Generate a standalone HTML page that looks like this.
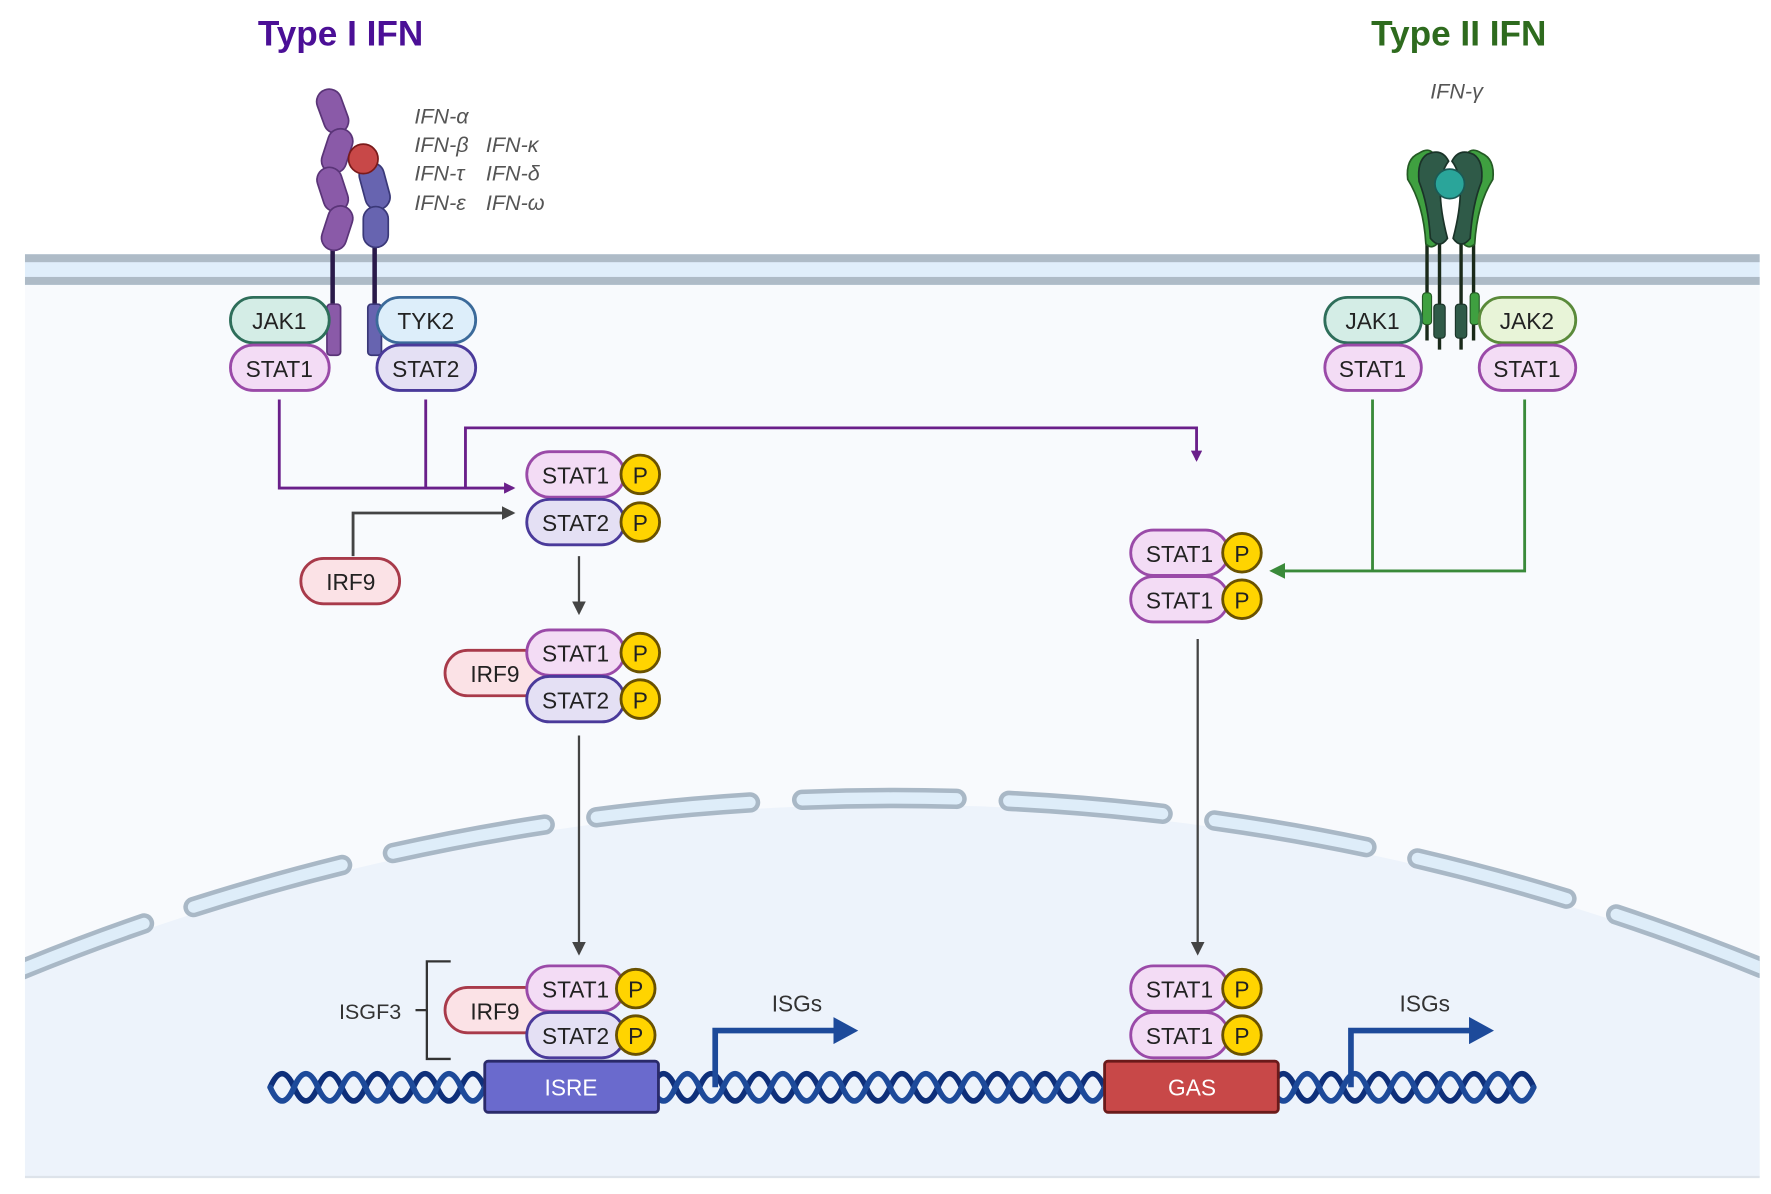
<!DOCTYPE html>
<html><head><meta charset="utf-8"><style>
html,body{margin:0;padding:0;background:#fff;width:1771px;height:1194px;overflow:hidden;}
svg{display:block;}
text{font-family:"Liberation Sans",sans-serif;}
.lbl{font-size:20px;fill:#222;text-anchor:middle;dominant-baseline:central;}
.it{font-size:19px;fill:#555;font-style:italic;}
</style></head><body>
<svg width="1771" height="1194" viewBox="0 0 1560 1052" preserveAspectRatio="none" xmlns="http://www.w3.org/2000/svg">
<defs>
<marker id="ap" markerWidth="10" markerHeight="10" refX="8" refY="5" orient="auto" markerUnits="userSpaceOnUse"><path d="M0,0 L10,5 L0,10z" fill="#6a1f8a"/></marker>
<marker id="ag" markerWidth="12" markerHeight="12" refX="10" refY="6" orient="auto" markerUnits="userSpaceOnUse"><path d="M0,0 L12,6 L0,12z" fill="#444"/></marker>
<marker id="agr" markerWidth="14" markerHeight="14" refX="10" refY="7" orient="auto" markerUnits="userSpaceOnUse"><path d="M0,0 L14,7 L0,14z" fill="#3a8a3a"/></marker>
<marker id="ab" markerWidth="22" markerHeight="24" refX="16" refY="12" orient="auto" markerUnits="userSpaceOnUse"><path d="M0,0 L22,12 L0,24z" fill="#1d4a9a"/></marker>
<clipPath id="cell"><rect x="22" y="250" width="1528" height="787"/></clipPath>
</defs>
<rect x="22" y="250" width="1528" height="787" fill="#f8fafd"/>
<g clip-path="url(#cell)">
<circle cx="787" cy="2735" r="2026" fill="#edf3fb"/>
<path d="M10,858 A2026,2026 0 0 1 1564,858" fill="none" stroke="#a9b8c6" stroke-width="18" stroke-dasharray="136 46" stroke-dashoffset="11" stroke-linecap="round"/>
<path d="M10,858 A2026,2026 0 0 1 1564,858" fill="none" stroke="#deedf9" stroke-width="10" stroke-dasharray="136 46" stroke-dashoffset="11" stroke-linecap="round"/>
</g>
<line x1="22" y1="1037" x2="1550" y2="1037" stroke="#dde3ea" stroke-width="2"/>
<rect x="22" y="224" width="1528" height="27" fill="#e0eefb"/>
<rect x="22" y="224" width="1528" height="7" fill="#aebbc7"/>
<rect x="22" y="244" width="1528" height="7" fill="#aebbc7"/>

<text x="300" y="40" font-size="31" font-weight="bold" fill="#4b0f96" text-anchor="middle">Type I IFN</text>
<text x="1285" y="40" font-size="31" font-weight="bold" fill="#2e6b1e" text-anchor="middle">Type II IFN</text>
<text class="it" x="365" y="109">IFN-α</text>
<text class="it" x="365" y="134">IFN-β</text><text class="it" x="428" y="134">IFN-κ</text>
<text class="it" x="365" y="159">IFN-τ</text><text class="it" x="428" y="159">IFN-δ</text>
<text class="it" x="365" y="185">IFN-ε</text><text class="it" x="428" y="185">IFN-ω</text>
<text class="it" x="1283" y="87" text-anchor="middle">IFN-γ</text>

<line x1="293" y1="210" x2="293" y2="310" stroke="#2a1a4a" stroke-width="4"/>
<line x1="330" y1="210" x2="330" y2="310" stroke="#2a1a4a" stroke-width="4"/>
<g fill="#8a5aa8" stroke="#5a3478" stroke-width="1.5">
<rect x="282" y="78" width="22" height="40" rx="11" transform="rotate(-20 293 98)"/>
<rect x="286" y="113" width="22" height="40" rx="11" transform="rotate(18 297 133)"/>
<rect x="282" y="147" width="22" height="40" rx="11" transform="rotate(-18 293 167)"/>
<rect x="286" y="181" width="22" height="40" rx="11" transform="rotate(18 297 201)"/>
<rect x="288" y="268" width="12" height="45" rx="3"/>
</g>
<g fill="#6764b0" stroke="#3a3878" stroke-width="1.5">
<rect x="319" y="143" width="22" height="42" rx="11" transform="rotate(-15 330 164)"/>
<rect x="320" y="182" width="22" height="36" rx="11"/>
<rect x="324" y="268" width="12" height="45" rx="3"/>
</g>
<circle cx="320" cy="140" r="13" fill="#c84848" stroke="#7a1a1a" stroke-width="1.5"/>

<g stroke="#1a2a1a" stroke-width="3">
<line x1="1257" y1="200" x2="1257" y2="300"/><line x1="1268" y1="200" x2="1268" y2="308"/>
<line x1="1287" y1="200" x2="1287" y2="308"/><line x1="1298" y1="200" x2="1298" y2="300"/>
</g>
<path d="M1250,135 Q1262,127 1266,143 Q1262,175 1268,212 Q1262,221 1256,215 Q1254,180 1240,158 Q1238,140 1250,135z" fill="#3fa040" stroke="#245a24" stroke-width="1.5"/>
<path d="M1305,135 Q1293,127 1289,143 Q1293,175 1287,212 Q1293,221 1299,215 Q1301,180 1315,158 Q1317,140 1305,135z" fill="#3fa040" stroke="#245a24" stroke-width="1.5"/>
<path d="M1257,136 Q1270,130 1276,142 Q1262,160 1275,210 Q1268,220 1260,210 Q1258,180 1250,160 Q1248,142 1257,136z" fill="#2f5a48" stroke="#1a3328" stroke-width="1.5"/>
<path d="M1298,136 Q1285,130 1279,142 Q1293,160 1280,210 Q1287,220 1295,210 Q1297,180 1305,160 Q1307,142 1298,136z" fill="#2f5a48" stroke="#1a3328" stroke-width="1.5"/>
<circle cx="1277" cy="162" r="13" fill="#2aa59a" stroke="#1a5a55" stroke-width="1.5"/>
<g fill="#3fa040" stroke="#245a24" stroke-width="1"><rect x="1253" y="258" width="8" height="28" rx="3"/><rect x="1295" y="258" width="8" height="28" rx="3"/></g>
<g fill="#2f5a48" stroke="#1a3328" stroke-width="1"><rect x="1263" y="268" width="10" height="30" rx="3"/><rect x="1282" y="268" width="10" height="30" rx="3"/></g>

<g fill="none" stroke="#6a1f8a" stroke-width="2.5">
<polyline points="246,352 246,430 452,430" marker-end="url(#ap)"/>
<polyline points="375,352 375,430"/>
<polyline points="410,430 410,377 1054,377 1054,405" marker-end="url(#ap)"/>
</g>
<g fill="none" stroke="#444" stroke-width="2.5">
<polyline points="311,490 311,452 452,452" marker-end="url(#ag)"/>
</g>
<g fill="none" stroke="#444" stroke-width="2">
<line x1="510" y1="490" x2="510" y2="540" marker-end="url(#ag)"/>
<line x1="510" y1="648" x2="510" y2="840" marker-end="url(#ag)"/>
<line x1="1055" y1="563" x2="1055" y2="840" marker-end="url(#ag)"/>
</g>
<g fill="none" stroke="#3a8a3a" stroke-width="2.5">
<polyline points="1209,352 1209,503"/>
<polyline points="1343,352 1343,503 1122,503" marker-end="url(#agr)"/>
</g>

<g stroke-width="2.5">
<rect x="203" y="262" width="87" height="40" rx="20" fill="#d4ede6" stroke="#2e6e5a"/>
<rect x="203" y="304" width="87" height="40" rx="20" fill="#f3dcf5" stroke="#9a4aa8"/>
<rect x="332" y="262" width="87" height="40" rx="20" fill="#ddeefa" stroke="#3b6a9a"/>
<rect x="332" y="304" width="87" height="40" rx="20" fill="#e4e0f4" stroke="#4a3a9a"/>
<rect x="1167" y="262" width="85" height="40" rx="20" fill="#d4ede6" stroke="#2e6e5a"/>
<rect x="1167" y="304" width="85" height="40" rx="20" fill="#f3dcf5" stroke="#9a4aa8"/>
<rect x="1303" y="262" width="85" height="40" rx="20" fill="#e8f4d8" stroke="#5a8a3a"/>
<rect x="1303" y="304" width="85" height="40" rx="20" fill="#f3dcf5" stroke="#9a4aa8"/>
<rect x="265" y="492" width="87" height="40" rx="20" fill="#fbe2e6" stroke="#a83a4a"/>
</g>
<text class="lbl" x="246" y="283">JAK1</text><text class="lbl" x="246" y="325">STAT1</text>
<text class="lbl" x="375" y="283">TYK2</text><text class="lbl" x="375" y="325">STAT2</text>
<text class="lbl" x="1209" y="283">JAK1</text><text class="lbl" x="1209" y="325">STAT1</text>
<text class="lbl" x="1345" y="283">JAK2</text><text class="lbl" x="1345" y="325">STAT1</text>
<text class="lbl" x="309" y="513">IRF9</text>

<g stroke-width="2.5" fill="#fbe2e6" stroke="#a83a4a">
<rect x="392" y="573" width="90" height="40" rx="20"/>
<rect x="392" y="870" width="90" height="40" rx="20"/>
</g>
<text class="lbl" x="436" y="594">IRF9</text>
<text class="lbl" x="436" y="891">IRF9</text>

<g stroke-width="2.5">
<rect x="464" y="398" width="86" height="40" rx="20" fill="#f3dcf5" stroke="#9a4aa8"/>
<rect x="464" y="440" width="86" height="40" rx="20" fill="#e4e0f4" stroke="#4a3a9a"/>
<rect x="464" y="555" width="86" height="40" rx="20" fill="#f3dcf5" stroke="#9a4aa8"/>
<rect x="464" y="596" width="86" height="40" rx="20" fill="#e4e0f4" stroke="#4a3a9a"/>
<rect x="464" y="851" width="86" height="40" rx="20" fill="#f3dcf5" stroke="#9a4aa8"/>
<rect x="464" y="892" width="86" height="40" rx="20" fill="#e4e0f4" stroke="#4a3a9a"/>
<rect x="996" y="467" width="86" height="40" rx="20" fill="#f3dcf5" stroke="#9a4aa8"/>
<rect x="996" y="508" width="86" height="40" rx="20" fill="#f3dcf5" stroke="#9a4aa8"/>
<rect x="996" y="851" width="86" height="40" rx="20" fill="#f3dcf5" stroke="#9a4aa8"/>
<rect x="996" y="892" width="86" height="40" rx="20" fill="#f3dcf5" stroke="#9a4aa8"/>
</g>
<g fill="#ffd400" stroke="#6a5200" stroke-width="2.5">
<circle cx="564" cy="418" r="17"/><circle cx="564" cy="460" r="17"/>
<circle cx="564" cy="575" r="17"/><circle cx="564" cy="616" r="17"/>
<circle cx="560" cy="871" r="17"/><circle cx="560" cy="912" r="17"/>
<circle cx="1094" cy="487" r="17"/><circle cx="1094" cy="528" r="17"/>
<circle cx="1094" cy="871" r="17"/><circle cx="1094" cy="912" r="17"/>
</g>
<text class="lbl" x="507" y="419">STAT1</text><text class="lbl" x="507" y="461">STAT2</text>
<text class="lbl" x="507" y="576">STAT1</text><text class="lbl" x="507" y="617">STAT2</text>
<text class="lbl" x="507" y="872">STAT1</text><text class="lbl" x="507" y="913">STAT2</text>
<text class="lbl" x="1039" y="488">STAT1</text><text class="lbl" x="1039" y="529">STAT1</text>
<text class="lbl" x="1039" y="872">STAT1</text><text class="lbl" x="1039" y="913">STAT1</text>
<text class="lbl" x="564" y="419">P</text><text class="lbl" x="564" y="461">P</text>
<text class="lbl" x="564" y="576">P</text><text class="lbl" x="564" y="617">P</text>
<text class="lbl" x="560" y="872">P</text><text class="lbl" x="560" y="913">P</text>
<text class="lbl" x="1094" y="488">P</text><text class="lbl" x="1094" y="529">P</text>
<text class="lbl" x="1094" y="872">P</text><text class="lbl" x="1094" y="913">P</text>

<polyline points="397,847 376,847 376,933 397,933" fill="none" stroke="#333" stroke-width="2"/>
<line x1="366" y1="890" x2="376" y2="890" stroke="#333" stroke-width="2"/>
<text x="326" y="891" font-size="19" fill="#333" text-anchor="middle" dominant-baseline="central">ISGF3</text>

<g fill="none" stroke-width="5" stroke-linecap="round">
<path stroke="#0e2f7a" d="M238,958 q10.5,-24 21,0 t21,0 t21,0 t21,0 t21,0 t21,0 t21,0 t21,0 t21,0 t21,0 t21,0 t21,0 t21,0 t21,0 t21,0 t21,0 t21,0 t21,0 t21,0 t21,0 t21,0 t21,0 t21,0 t21,0 t21,0 t21,0 t21,0 t21,0 t21,0 t21,0 t21,0 t21,0 t21,0 t21,0 t21,0 t21,0 t21,0 t21,0 t21,0 t21,0 t21,0 t21,0 t21,0 t21,0 t21,0 t21,0 t21,0 t21,0 t21,0 t21,0 t21,0 t21,0 t21,0"/>
<path stroke="#1d4a9a" d="M238,958 q10.5,24 21,0 t21,0 t21,0 t21,0 t21,0 t21,0 t21,0 t21,0 t21,0 t21,0 t21,0 t21,0 t21,0 t21,0 t21,0 t21,0 t21,0 t21,0 t21,0 t21,0 t21,0 t21,0 t21,0 t21,0 t21,0 t21,0 t21,0 t21,0 t21,0 t21,0 t21,0 t21,0 t21,0 t21,0 t21,0 t21,0 t21,0 t21,0 t21,0 t21,0 t21,0 t21,0 t21,0 t21,0 t21,0 t21,0 t21,0 t21,0 t21,0 t21,0 t21,0 t21,0 t21,0"/>
</g>
<rect x="427" y="935" width="153" height="45" rx="3" fill="#6a6acd" stroke="#2a2a6a" stroke-width="2.5"/>
<text x="503" y="958" font-size="20" fill="#fff" text-anchor="middle" dominant-baseline="central">ISRE</text>
<rect x="973" y="935" width="153" height="45" rx="3" fill="#c84848" stroke="#6a1a1a" stroke-width="2.5"/>
<text x="1050" y="958" font-size="20" fill="#fff" text-anchor="middle" dominant-baseline="central">GAS</text>

<g fill="none" stroke="#1d4a9a" stroke-width="5">
<polyline points="630,958 630,908 750,908" marker-end="url(#ab)"/>
<polyline points="1190,958 1190,908 1310,908" marker-end="url(#ab)"/>
</g>
<text x="702" y="884" font-size="20" fill="#333" text-anchor="middle" dominant-baseline="central">ISGs</text>
<text x="1255" y="884" font-size="20" fill="#333" text-anchor="middle" dominant-baseline="central">ISGs</text>
</svg>
</body></html>
